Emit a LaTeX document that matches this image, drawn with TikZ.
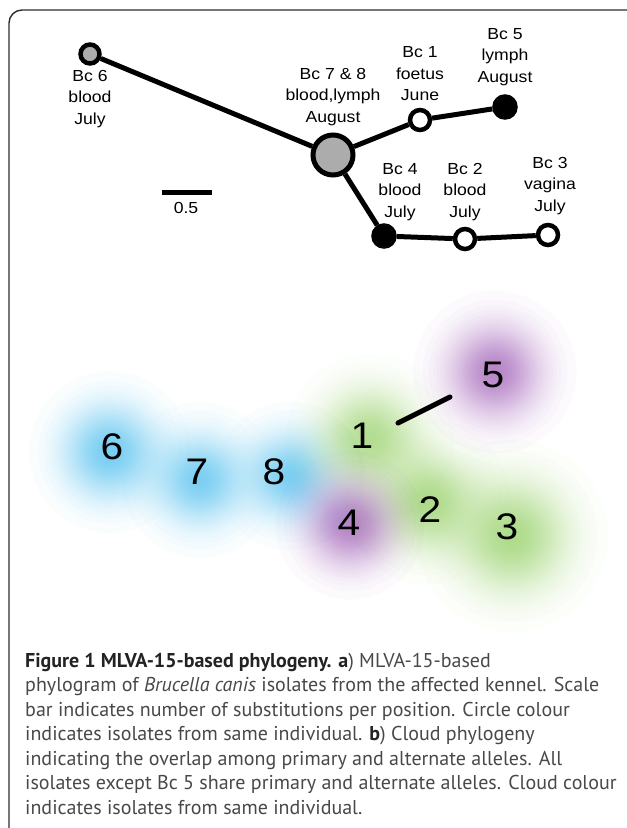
\documentclass[tikz,border=0pt]{standalone}
\usepackage{fontspec}
\usepackage{graphicx}
\setmainfont{Liberation Sans}
\newfontfamily\capfont{PT Sans}
\definecolor{cblue}{RGB}{100,198,240}
\definecolor{cgreen}{RGB}{155,210,110}
\definecolor{cpurple}{RGB}{170,112,190}
\definecolor{cgray}{RGB}{172,172,172}
\definecolor{framec}{RGB}{45,45,45}
\definecolor{captxt}{RGB}{72,72,72}
\definecolor{capbold}{RGB}{35,35,35}
\newcommand{\hs}[1]{\scalebox{1.1}[1]{#1}}
% soft gaussian-like cloud: stacked translucent discs
% #1 colour, #2 x, #3 y, #4 spread, #5 opacity per disc
\newcommand{\cloudblob}[5]{%
  \foreach \k in {1,...,50}{%
    \pgfmathsetmacro{\rr}{#4*sqrt(ln((1-(1-#5)^50+0.01)/(1-(1-#5)^\k)))}%
    \fill[#1, fill opacity=#5] (#2,#3) circle[radius=\rr];}}
\tikzset{
  lbl/.style={font=\fontsize{16}{21.5}\selectfont, align=center, inner sep=0pt},
  digit/.style={font=\fontsize{37}{37}\selectfont, inner sep=0pt},
  edgeline/.style={line width=5pt},
  isol/.style={circle, draw=black, line width=4.5pt, inner sep=0pt},
  capline/.style={anchor=base west, inner sep=0pt, font=\capfont\fontsize{20}{24}\selectfont, text=captxt},
}
\begin{document}
\begin{tikzpicture}[x=1pt,y=-1pt]
\useasboundingbox (0,0) rectangle (627,828);
% frame
\draw[framec, line width=1.4pt, rounded corners=13pt] (9,828) -- (9,10) -- (627,10);
% ---------- part a ----------
\node[isol, fill=cgray, minimum size=19pt] (b6) at (90,54) {};
\node[isol, fill=cgray, minimum size=40pt, line width=5pt] (b78) at (333,155) {};
\node[isol, fill=white, minimum size=20pt] (b1) at (420,120) {};
\node[isol, fill=black, minimum size=21pt] (b5) at (505,107) {};
\node[isol, fill=black, minimum size=21pt] (b4) at (384,236) {};
\node[isol, fill=white, minimum size=20pt] (b2) at (465,239) {};
\node[isol, fill=white, minimum size=20pt] (b3) at (548,235) {};
\draw[edgeline] (b6) -- (b78);
\draw[edgeline] (b78) -- (b1);
\draw[edgeline] (b1) -- (b5);
\draw[edgeline] (b78) -- (b4);
\draw[edgeline] (b4) -- (b2);
\draw[edgeline] (b2) -- (b3);
\node[lbl] (l6) at (90,99) {\hs{Bc 6}\\\hs{blood}\\\hs{July}};
\node[lbl] (l78) at (333,97) {\hs{Bc 7 \& 8}\\\hs{blood,lymph}\\\hs{August}};
\node[lbl] (l1) at (420,74) {\hs{Bc 1}\\\hs{foetus}\\\hs{June}};
\node[lbl] (l5) at (505,57) {\hs{Bc 5}\\\hs{lymph}\\\hs{August}};
\node[lbl] (l4) at (400,192) {\hs{Bc 4}\\\hs{blood}\\\hs{July}};
\node[lbl] (l2) at (465,192) {\hs{Bc 2}\\\hs{blood}\\\hs{July}};
\node[lbl] (l3) at (550,186) {\hs{Bc 3}\\\hs{vagina}\\\hs{July}};
\coordinate (s1) at (162,192);
\coordinate (s2) at (212,192);
\draw[edgeline] (s1) -- (s2);
\node[lbl] (sl) at (186,208) {\hs{0.5}};
% ---------- part b ----------
\cloudblob{cblue}{110}{452}{46}{0.04}
\cloudblob{cblue}{200}{480}{44}{0.037}
\cloudblob{cblue}{290}{476}{42}{0.037}
\cloudblob{cgreen}{370}{438}{46}{0.026}
\cloudblob{cgreen}{428}{502}{46}{0.032}
\cloudblob{cgreen}{512}{536}{53}{0.03}
\cloudblob{cpurple}{495}{372}{46}{0.037}
\cloudblob{cpurple}{350}{525}{42}{0.037}
\node[digit] (d6) at (112,447) {\hs{6}};
\node[digit] (d7) at (197,472) {\hs{7}};
\node[digit] (d8) at (274,472) {\hs{8}};
\node[digit] (d1) at (362,436) {\hs{1}};
\node[digit] (d5) at (493,375) {\hs{5}};
\node[digit] (d4) at (349,523) {\hs{4}};
\node[digit] (d2) at (430,510) {\hs{2}};
\node[digit] (d3) at (507,527) {\hs{3}};
\coordinate (c1) at (398,423);
\coordinate (c2) at (450,397);
\draw[edgeline, line cap=round] (c1) -- (c2);
% ---------- caption ----------
\node[capline] (cap1) at (25,667) {{\color{capbold}\bfseries Figure 1 MLVA-15-based phylogeny. a}) MLVA-15-based};
\node[capline] (cap2) at (25,691.5) {phylogram of \textit{Brucella canis} isolates from the affected kennel. Scale};
\node[capline] (cap3) at (25,716) {bar indicates number of substitutions per position. Circle colour};
\node[capline] (cap4) at (25,740.5) {indicates isolates from same individual. {\color{capbold}\bfseries b}) Cloud phylogeny};
\node[capline] (cap5) at (25,765) {indicating the overlap among primary and alternate alleles. All};
\node[capline] (cap6) at (25,789.5) {isolates except Bc 5 share primary and alternate alleles. Cloud colour};
\node[capline] (cap7) at (25,814) {indicates isolates from same individual.};
\end{tikzpicture}
\end{document}
